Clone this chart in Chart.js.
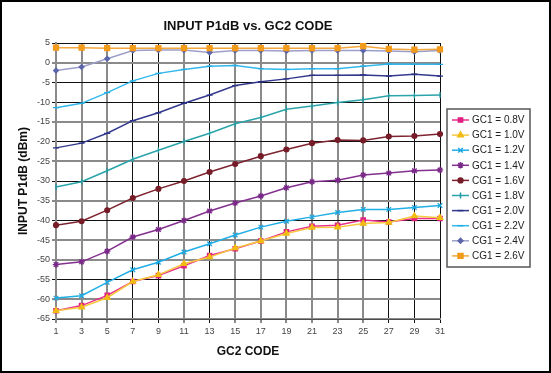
<!DOCTYPE html>
<html>
<head>
<meta charset="utf-8">
<script src="https://cdn.jsdelivr.net/npm/chart.js@4/dist/chart.umd.min.js"></script>
<style>
  html,body{margin:0;padding:0;background:#fff;}
  #wrap{width:551px;height:373px;position:relative;}
</style>
</head>
<body>
<div id="wrap"><canvas id="c" width="551" height="373"></canvas></div>
<script>
/* ── Input P1dB vs. GC2 code ─────────────────────────────────
   data, one array per series
──────────────────────────────────────────────────────────── */
const GC2_CODES = [1,3,5,7,9,11,13,15,17,19,21,23,25,27,29,31];
const Y_TICKS   = [5,0,-5,-10,-15,-20,-25,-30,-35,-40,-45,-50,-55,-60,-65];

const GC1_08 = [-62.9,-61.6,-59.0,-55.5,-54.0,-51.5,-48.9,-47.2,-45.2,-42.9,-41.5,-41.2,-39.9,-40.4,-39.5,-39.5];
const GC1_10 = [-62.9,-62.0,-59.6,-55.5,-53.8,-51.0,-49.3,-47.0,-45.2,-43.3,-41.8,-41.7,-40.8,-40.5,-38.9,-39.3];
const GC1_12 = [-59.7,-59.1,-55.7,-52.5,-50.6,-48.0,-45.9,-43.7,-41.7,-40.2,-39.1,-38.0,-37.2,-37.2,-36.7,-36.2];
const GC1_14 = [-51.2,-50.5,-47.8,-44.2,-42.3,-40.0,-37.6,-35.6,-33.8,-31.7,-30.2,-29.8,-28.5,-28.0,-27.4,-27.2];
const CG1_16 = [-41.2,-40.2,-37.4,-34.3,-32.0,-30.0,-27.7,-25.7,-23.7,-22.0,-20.4,-19.6,-19.7,-18.7,-18.6,-18.1];
const CG1_18 = [-31.5,-30.2,-27.4,-24.5,-22.2,-20.0,-17.9,-15.5,-13.9,-11.8,-11.0,-10.1,-9.4,-8.4,-8.3,-8.2];
const CG1_20 = [-21.6,-20.4,-17.9,-14.7,-12.7,-10.3,-8.2,-5.8,-4.8,-4.1,-3.2,-3.2,-3.1,-3.4,-2.9,-3.4];
const CG1_22 = [-11.4,-10.3,-7.6,-4.6,-2.7,-1.7,-0.9,-0.7,-1.5,-1.7,-1.5,-1.5,-0.9,-0.3,-0.4,-0.4];
const CG1_24 = [-2.0,-1.1,1.0,3.1,3.2,3.2,2.6,3.1,3.1,3.0,3.1,3.1,3.1,3.0,2.8,3.1];
const CG1_26 = [3.8,3.8,3.7,3.7,3.7,3.7,3.7,3.7,3.7,3.7,3.7,3.7,4.2,3.5,3.3,3.4];

(function () {
const SERIES = [
  { label:"GC1 = 0.8V", data:GC1_08, line:"#e8308c", mark:"#e0207f", style:"rect",     r:3,   rot:0  },
  { label:"GC1 = 1.0V", data:GC1_10, line:"#f7c940", mark:"#f2bb12", style:"triangle", r:3.2, rot:0  },
  { label:"GC1 = 1.2V", data:GC1_12, line:"#22aee6", mark:"#1aa6e0", style:"crossRot", r:3.2, rot:0  },
  { label:"GC1 = 1.4V", data:GC1_14, line:"#84308f", mark:"#7a2888", style:"star",     r:3.2, rot:0  },
  { label:"CG1 = 1.6V", data:CG1_16, line:"#7e2430", mark:"#761c28", style:"circle",   r:2.4, rot:0  },
  { label:"CG1 = 1.8V", data:CG1_18, line:"#2aa3aa", mark:"#1f9aa2", style:"line",     r:3,   rot:90 },
  { label:"CG1 = 2.0V", data:CG1_20, line:"#333a8e", mark:"#2b3188", style:"line",     r:3,   rot:0  },
  { label:"CG1 = 2.2V", data:CG1_22, line:"#33b8ec", mark:"#22aee6", style:"line",     r:3,   rot:0  },
  { label:"CG1 = 2.4V", data:CG1_24, line:"#9ca0c9", mark:"#5c66ab", style:"rectRot",  r:2.4, rot:0  },
  { label:"CG1 = 2.6V", data:CG1_26, line:"#f3a73c", mark:"#f29a1a", style:"rect",     r:3.5, rot:0  },
];

// scan look: some grid lines dark & thin, others grey & wide
const H_GREY = [0,-15,-25,-35,-45,-50,-60];
const V_GREY = [1,3,5,11,15,17,19,21,23,25];
const FONT = "Arial, 'Liberation Sans', sans-serif";

const datasets = SERIES.map((s, i) => ({
  label: s.label,
  data: s.data,
  borderColor: s.line,
  backgroundColor: s.mark,
  borderWidth: 1.5,
  pointStyle: s.style,
  pointRotation: s.rot,
  pointRadius: s.r,
  pointBorderColor: s.mark,
  pointBackgroundColor: s.mark,
  pointBorderWidth: 1.3,
  tension: 0,
  order: SERIES.length - i,
}));

/* ── frame + title + boxed legend, Excel style ── */
const excelDeco = {
  id: "excelDeco",
  afterDraw(chart) {
    const { ctx, chartArea } = chart;
    ctx.save();
    // outer frame
    ctx.strokeStyle = "#000"; ctx.lineWidth = 2;
    ctx.strokeRect(1, 1, 549, 371);
    // title
    ctx.fillStyle = "#111";
    ctx.font = "bold 13px " + FONT;
    ctx.textAlign = "center"; ctx.textBaseline = "middle";
    ctx.fillText("INPUT P1dB vs. GC2 CODE", (chartArea.left + chartArea.right) / 2, 26);
    // legend box
    const bx = 447, by = 109, bw = 83, bh = 158;
    ctx.fillStyle = "#fff"; ctx.fillRect(bx, by, bw, bh);
    ctx.strokeStyle = "#555"; ctx.lineWidth = 1.5;
    ctx.strokeRect(bx, by, bw, bh);
    ctx.font = "10px " + FONT;
    ctx.textAlign = "left";
    SERIES.forEach((s, i) => {
      const y = 120 + i * 15.1;
      ctx.strokeStyle = s.line; ctx.lineWidth = 1.5;
      ctx.beginPath(); ctx.moveTo(452, y); ctx.lineTo(469, y); ctx.stroke();
      ctx.fillStyle = s.mark; ctx.strokeStyle = s.mark;
      if (Chart.helpers && Chart.helpers.drawPoint) {
        Chart.helpers.drawPoint(ctx, { pointStyle: s.style, radius: s.r, rotation: s.rot, borderWidth: 1.3 }, 460.5, y);
      }
      ctx.fillStyle = "#222";
      ctx.fillText(s.label, 472, y + 0.5);
    });
    ctx.restore();
  },
};

new Chart(document.getElementById("c"), {
  type: "line",
  data: { labels: GC2_CODES.map(String), datasets },
  plugins: [excelDeco],
  options: {
    responsive: false,
    animation: false,
    layout: { padding: { top: 43, right: 111, bottom: 4, left: 0 } },
    plugins: { legend: { display: false }, tooltip: { enabled: false }, title: { display: false } },
    scales: {
      x: {
        afterFit: s => { s.height = 50; },
        grid: {
          color: c => V_GREY.includes(GC2_CODES[c.index]) ? "#8a8a8a" : "#111",
          lineWidth: c => V_GREY.includes(GC2_CODES[c.index]) ? 2 : 1,
          tickLength: 4,
        },
        border: { color: "#8a8a8a", width: 1.5 },
        ticks: { font: { family: FONT, size: 9 }, color: "#444", padding: 3, maxRotation: 0, autoSkip: false },
        title: { display: true, text: "GC2 CODE", color: "#111", font: { family: FONT, size: 12, weight: "bold" }, padding: { top: 0, bottom: 10 } },
      },
      y: {
        min: -65, max: 5,
        afterFit: s => { s.width = 56; },
        afterBuildTicks: s => { s.ticks = Y_TICKS.map(v => ({ value: v })); },
        grid: {
          color: c => H_GREY.includes(c.tick && c.tick.value) ? "#8a8a8a" : "#111",
          lineWidth: c => H_GREY.includes(c.tick && c.tick.value) ? 2 : 1,
          tickLength: 4,
        },
        border: { color: "#8a8a8a", width: 2 },
        ticks: { font: { family: FONT, size: 9 }, color: "#444", padding: 2 },
        title: { display: true, text: "INPUT P1dB (dBm)", color: "#111", font: { family: FONT, size: 12, weight: "bold" }, padding: { top: 16, bottom: 0 } },
      },
    },
  },
});
})();
</script>
</body>
</html>
